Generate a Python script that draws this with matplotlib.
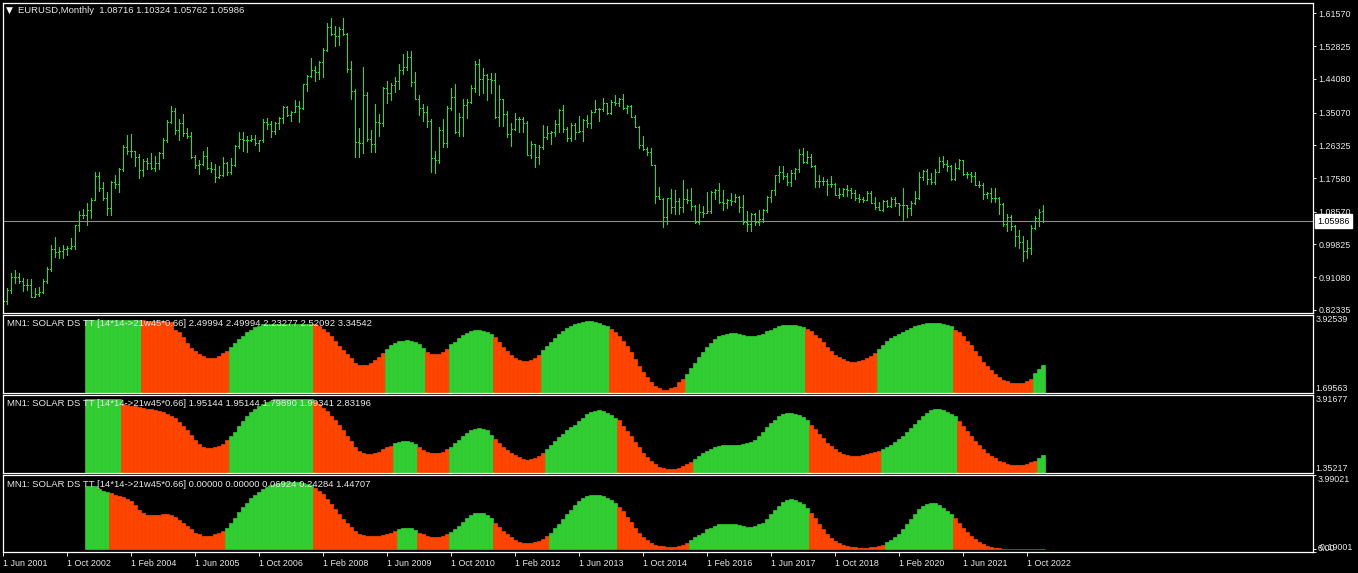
import numpy as np
import pandas as pd
import matplotlib
matplotlib.use('Agg')
import matplotlib.pyplot as plt
import matplotlib.transforms as mtransforms
from matplotlib.collections import LineCollection

plt.rcParams['font.family'] = ['Liberation Sans', 'DejaVu Sans']

# EURUSD monthly bars, Jun 2001 .. Feb 2023
first_month = '2001-06-01'
opens = [
    0.8500, 0.8480, 0.8760, 0.9110, 0.9110, 0.9020, 0.8910,
    0.8900, 0.8590, 0.8660, 0.8720, 0.9020, 0.9330, 0.9870, 0.9780, 0.9810, 0.9860, 0.9890, 0.9930,
    1.0490, 1.0770, 1.0780, 1.0910, 1.1170, 1.1810, 1.1490, 1.1230, 1.0970, 1.1650, 1.1590, 1.1990,
    1.2590, 1.2470, 1.2480, 1.2320, 1.1980, 1.2220, 1.2170, 1.2020, 1.2170, 1.2420, 1.2770, 1.3260,
    1.3550, 1.3040, 1.3240, 1.2960, 1.2870, 1.2310, 1.2100, 1.2130, 1.2340, 1.2030, 1.1990, 1.1790,
    1.1840, 1.2160, 1.1920, 1.2110, 1.2620, 1.2810, 1.2780, 1.2760, 1.2810, 1.2680, 1.2760, 1.3250,
    1.3200, 1.3020, 1.3230, 1.3360, 1.3660, 1.3450, 1.3530, 1.3680, 1.3630, 1.4260, 1.4480, 1.4630,
    1.4590, 1.4850, 1.5180, 1.5780, 1.5600, 1.5550, 1.5750, 1.5600, 1.4670, 1.4080, 1.2730, 1.2700,
    1.3970, 1.2800, 1.2670, 1.3250, 1.3240, 1.4150, 1.4030, 1.4250, 1.4340, 1.4630, 1.4720, 1.5000,
    1.4330, 1.3870, 1.3630, 1.3510, 1.3290, 1.2290, 1.2230, 1.3050, 1.2680, 1.3630, 1.3920, 1.2990,
    1.3380, 1.3700, 1.3800, 1.4170, 1.4810, 1.4390, 1.4500, 1.4390, 1.4370, 1.3400, 1.3860, 1.3460,
    1.2940, 1.3080, 1.3340, 1.3340, 1.3240, 1.2360, 1.2660, 1.2310, 1.2580, 1.2860, 1.2970, 1.2990,
    1.3190, 1.3580, 1.3060, 1.2820, 1.3170, 1.3000, 1.3010, 1.3300, 1.3220, 1.3530, 1.3590, 1.3590,
    1.3760, 1.3490, 1.3800, 1.3770, 1.3870, 1.3630, 1.3690, 1.3390, 1.3130, 1.2630, 1.2520, 1.2450,
    1.2100, 1.1290, 1.1200, 1.0730, 1.1220, 1.0990, 1.1140, 1.0980, 1.1210, 1.1170, 1.1000, 1.0570,
    1.0860, 1.0830, 1.0870, 1.1380, 1.1450, 1.1130, 1.1100, 1.1170, 1.1150, 1.1240, 1.0980, 1.0590,
    1.0520, 1.0800, 1.0580, 1.0650, 1.0900, 1.1240, 1.1430, 1.1840, 1.1910, 1.1810, 1.1650, 1.1900,
    1.2000, 1.2410, 1.2190, 1.2320, 1.2080, 1.1690, 1.1680, 1.1690, 1.1600, 1.1600, 1.1310, 1.1320,
    1.1470, 1.1450, 1.1370, 1.1220, 1.1210, 1.1170, 1.1370, 1.1080, 1.0990, 1.0900, 1.1150, 1.1020,
    1.1210, 1.1090, 1.1030, 1.1030, 1.0950, 1.1100, 1.1230, 1.1780, 1.1940, 1.1720, 1.1650, 1.1930,
    1.2220, 1.2140, 1.2070, 1.1730, 1.2020, 1.2230, 1.1860, 1.1870, 1.1810, 1.1580, 1.1560, 1.1340,
    1.1370, 1.1230, 1.1220, 1.1070, 1.0540, 1.0730, 1.0480, 1.0220, 1.0050, 0.9800, 0.9880, 1.0410,
    1.0700, 1.08716,
]
highs = [
    0.8650, 0.8830, 0.9230, 0.9310, 0.9230, 0.9100, 0.9070,
    0.9050, 0.8820, 0.8840, 0.9050, 0.9390, 0.9960, 1.0190, 0.9920, 0.9980, 0.9940, 1.0150, 1.0500,
    1.0880, 1.0930, 1.1080, 1.1230, 1.1930, 1.1930, 1.1650, 1.1380, 1.1680, 1.1840, 1.2030, 1.2650,
    1.2900, 1.2930, 1.2480, 1.2390, 1.2270, 1.2290, 1.2420, 1.2350, 1.2440, 1.2820, 1.3310, 1.3670,
    1.3630, 1.3330, 1.3480, 1.3100, 1.2990, 1.2380, 1.2250, 1.2480, 1.2590, 1.2190, 1.2130, 1.2080,
    1.2320, 1.2180, 1.2300, 1.2630, 1.2980, 1.2980, 1.2880, 1.2910, 1.2900, 1.2780, 1.3330, 1.3370,
    1.3270, 1.3250, 1.3380, 1.3680, 1.3680, 1.3550, 1.3850, 1.3810, 1.4280, 1.4510, 1.4970, 1.4760,
    1.4870, 1.5240, 1.5910, 1.6020, 1.5820, 1.5800, 1.6040, 1.5640, 1.4870, 1.4130, 1.3090, 1.4720,
    1.4060, 1.3040, 1.3740, 1.3480, 1.4180, 1.4340, 1.4300, 1.4450, 1.4790, 1.5060, 1.5140, 1.5140,
    1.4580, 1.3970, 1.3740, 1.3690, 1.3330, 1.2470, 1.3120, 1.3330, 1.3680, 1.4160, 1.4280, 1.3500,
    1.3860, 1.3860, 1.4250, 1.4880, 1.4940, 1.4700, 1.4540, 1.4550, 1.4550, 1.4250, 1.3870, 1.3550,
    1.3240, 1.3490, 1.3390, 1.3380, 1.3280, 1.2750, 1.2670, 1.2640, 1.3170, 1.3140, 1.3010, 1.3310,
    1.3590, 1.3710, 1.3110, 1.3240, 1.3240, 1.3420, 1.3340, 1.3450, 1.3570, 1.3830, 1.3620, 1.3890,
    1.3770, 1.3830, 1.3970, 1.3900, 1.3990, 1.3700, 1.3700, 1.3440, 1.3140, 1.2890, 1.2580, 1.2570,
    1.2110, 1.1530, 1.1220, 1.1220, 1.1470, 1.1440, 1.1220, 1.1710, 1.1460, 1.1500, 1.1040, 1.1060,
    1.1010, 1.1380, 1.1400, 1.1460, 1.1620, 1.1430, 1.1200, 1.1370, 1.1330, 1.1280, 1.1300, 1.0880,
    1.0830, 1.0830, 1.0910, 1.0940, 1.1270, 1.1450, 1.1850, 1.2070, 1.2090, 1.1880, 1.1960, 1.2020,
    1.2540, 1.2560, 1.2480, 1.2410, 1.2100, 1.1850, 1.1790, 1.1730, 1.1820, 1.1620, 1.1500, 1.1490,
    1.1570, 1.1490, 1.1450, 1.1330, 1.1260, 1.1410, 1.1420, 1.1250, 1.1110, 1.1180, 1.1180, 1.1240,
    1.1240, 1.1100, 1.1500, 1.1040, 1.1150, 1.1420, 1.1910, 1.1970, 1.2010, 1.1880, 1.2000, 1.2310,
    1.2350, 1.2240, 1.2110, 1.2150, 1.2270, 1.2250, 1.1910, 1.1910, 1.1910, 1.1690, 1.1620, 1.1390,
    1.1480, 1.1500, 1.1240, 1.1080, 1.0790, 1.0770, 1.0490, 1.0370, 1.0200, 1.0090, 1.0500, 1.0740,
    1.0930, 1.10324,
]
lows = [
    0.8344, 0.8390, 0.8700, 0.8950, 0.8950, 0.8740, 0.8760,
    0.8590, 0.8570, 0.8600, 0.8680, 0.8950, 0.9280, 0.9650, 0.9610, 0.9630, 0.9690, 0.9860, 0.9870,
    1.0340, 1.0690, 1.0500, 1.0690, 1.1170, 1.1410, 1.1180, 1.0770, 1.0760, 1.1490, 1.1380, 1.1950,
    1.2390, 1.2330, 1.2080, 1.1760, 1.1800, 1.1990, 1.2000, 1.1950, 1.2000, 1.2290, 1.2710, 1.3220,
    1.2940, 1.2770, 1.2880, 1.2820, 1.2300, 1.2030, 1.1870, 1.2110, 1.1990, 1.1910, 1.1640, 1.1760,
    1.1800, 1.1830, 1.1870, 1.2070, 1.2550, 1.2480, 1.2450, 1.2740, 1.2630, 1.2480, 1.2710, 1.3080,
    1.2860, 1.2930, 1.3080, 1.3230, 1.3410, 1.3290, 1.3530, 1.3260, 1.3600, 1.4080, 1.4450, 1.4350,
    1.4400, 1.4460, 1.5160, 1.5580, 1.5280, 1.5300, 1.5580, 1.4580, 1.3880, 1.2330, 1.2330, 1.2430,
    1.2750, 1.2460, 1.2460, 1.2880, 1.3140, 1.3750, 1.3830, 1.4050, 1.4130, 1.4540, 1.4640, 1.4220,
    1.3860, 1.3440, 1.3270, 1.3110, 1.1920, 1.1880, 1.2150, 1.2590, 1.2590, 1.3570, 1.2970, 1.2880,
    1.2870, 1.3360, 1.3750, 1.4060, 1.3970, 1.4020, 1.3840, 1.4030, 1.3360, 1.3140, 1.3140, 1.2860,
    1.2620, 1.3030, 1.3000, 1.3000, 1.2360, 1.2290, 1.2040, 1.2130, 1.2540, 1.2800, 1.2660, 1.2870,
    1.3000, 1.3000, 1.2750, 1.2740, 1.2790, 1.2990, 1.2750, 1.3130, 1.3100, 1.3520, 1.3290, 1.3540,
    1.3480, 1.3480, 1.3700, 1.3670, 1.3590, 1.3500, 1.3390, 1.3120, 1.2570, 1.2500, 1.2360, 1.2100,
    1.1100, 1.1190, 1.0460, 1.0520, 1.0820, 1.0810, 1.0810, 1.0850, 1.1100, 1.0900, 1.0560, 1.0520,
    1.0710, 1.0820, 1.0820, 1.1210, 1.1100, 1.0910, 1.0950, 1.1050, 1.1120, 1.0850, 1.0520, 1.0350,
    1.0340, 1.0490, 1.0490, 1.0570, 1.0840, 1.1120, 1.1310, 1.1660, 1.1720, 1.1570, 1.1550, 1.1720,
    1.1920, 1.2150, 1.2150, 1.2050, 1.1510, 1.1510, 1.1570, 1.1300, 1.1530, 1.1300, 1.1220, 1.1270,
    1.1290, 1.1230, 1.1180, 1.1110, 1.1110, 1.1180, 1.1080, 1.0930, 1.0900, 1.0880, 1.0980, 1.0980,
    1.1020, 1.0780, 1.0640, 1.0730, 1.0770, 1.1070, 1.1190, 1.1700, 1.1610, 1.1610, 1.1600, 1.1920,
    1.2060, 1.1950, 1.1700, 1.1700, 1.1990, 1.1850, 1.1750, 1.1660, 1.1560, 1.1520, 1.1190, 1.1220,
    1.1120, 1.1110, 1.0810, 1.0470, 1.0350, 1.0360, 0.9950, 0.9900, 0.9540, 0.9630, 0.9730, 1.0390,
    1.0480, 1.05762,
]
closes = [
    0.8480, 0.8760, 0.9110, 0.9110, 0.9020, 0.8910, 0.8900,
    0.8590, 0.8660, 0.8720, 0.9020, 0.9330, 0.9870, 0.9780, 0.9810, 0.9860, 0.9890, 0.9930, 1.0490,
    1.0770, 1.0780, 1.0910, 1.1170, 1.1810, 1.1490, 1.1230, 1.0970, 1.1650, 1.1590, 1.1990, 1.2590,
    1.2470, 1.2480, 1.2320, 1.1980, 1.2220, 1.2170, 1.2020, 1.2170, 1.2420, 1.2770, 1.3260, 1.3550,
    1.3040, 1.3240, 1.2960, 1.2870, 1.2310, 1.2100, 1.2130, 1.2340, 1.2030, 1.1990, 1.1790, 1.1840,
    1.2160, 1.1920, 1.2110, 1.2620, 1.2810, 1.2780, 1.2760, 1.2810, 1.2680, 1.2760, 1.3250, 1.3200,
    1.3020, 1.3230, 1.3360, 1.3660, 1.3450, 1.3530, 1.3680, 1.3630, 1.4260, 1.4480, 1.4630, 1.4590,
    1.4850, 1.5180, 1.5780, 1.5600, 1.5550, 1.5750, 1.5600, 1.4670, 1.4080, 1.2730, 1.2700, 1.3970,
    1.2800, 1.2670, 1.3250, 1.3240, 1.4150, 1.4030, 1.4250, 1.4340, 1.4630, 1.4720, 1.5000, 1.4330,
    1.3870, 1.3630, 1.3510, 1.3290, 1.2290, 1.2230, 1.3050, 1.2680, 1.3630, 1.3920, 1.2990, 1.3380,
    1.3700, 1.3800, 1.4170, 1.4810, 1.4390, 1.4500, 1.4390, 1.4370, 1.3400, 1.3860, 1.3460, 1.2940,
    1.3080, 1.3340, 1.3340, 1.3240, 1.2360, 1.2660, 1.2310, 1.2580, 1.2860, 1.2970, 1.2990, 1.3190,
    1.3580, 1.3060, 1.2820, 1.3170, 1.3000, 1.3010, 1.3300, 1.3220, 1.3530, 1.3590, 1.3590, 1.3760,
    1.3490, 1.3800, 1.3770, 1.3870, 1.3630, 1.3690, 1.3390, 1.3130, 1.2630, 1.2520, 1.2450, 1.2100,
    1.1290, 1.1200, 1.0730, 1.1220, 1.0990, 1.1140, 1.0980, 1.1210, 1.1170, 1.1000, 1.0570, 1.0860,
    1.0830, 1.0870, 1.1380, 1.1450, 1.1130, 1.1100, 1.1170, 1.1150, 1.1240, 1.0980, 1.0590, 1.0520,
    1.0800, 1.0580, 1.0650, 1.0900, 1.1240, 1.1430, 1.1840, 1.1910, 1.1810, 1.1650, 1.1900, 1.2000,
    1.2410, 1.2190, 1.2320, 1.2080, 1.1690, 1.1680, 1.1690, 1.1600, 1.1600, 1.1310, 1.1320, 1.1470,
    1.1450, 1.1370, 1.1220, 1.1210, 1.1170, 1.1370, 1.1080, 1.0990, 1.0900, 1.1150, 1.1020, 1.1210,
    1.1090, 1.1030, 1.1030, 1.0950, 1.1100, 1.1230, 1.1780, 1.1940, 1.1720, 1.1650, 1.1930, 1.2220,
    1.2140, 1.2070, 1.1730, 1.2020, 1.2230, 1.1860, 1.1870, 1.1810, 1.1580, 1.1560, 1.1340, 1.1370,
    1.1230, 1.1220, 1.1070, 1.0540, 1.0730, 1.0480, 1.0220, 1.0050, 0.9800, 0.9880, 1.0410, 1.0700,
    1.0860, 1.05986,
]
assert len(opens) == len(highs) == len(lows) == len(closes) == 261

last_price = 1.05986
price_ticks = [1.61570, 1.52825, 1.44080, 1.35070, 1.26325, 1.17580,
               1.08570, 0.99825, 0.91080, 0.82335]
price_range = (0.8153, 1.6445)

# SOLAR DS TT histograms, they start with the Mar 2003 bar
ind_start = 21
sol1 = [
    3.79, 3.79, 3.79, 3.79, 3.79, 3.79, 3.79, 3.79, 3.79, 3.79, 3.79, 3.79, 3.79, 3.79,
    3.77, 3.76, 3.76, 3.75, 3.75, 3.74, 3.73, 3.72,
    3.49, 3.43, 3.30, 3.11, 2.98, 2.88, 2.81, 2.74, 2.70, 2.70, 2.70, 2.74, 2.84, 2.88,
    3.00, 3.13, 3.23, 3.33, 3.43, 3.50, 3.57, 3.62,
    3.68, 3.68, 3.68, 3.68, 3.68, 3.68, 3.68, 3.68, 3.68, 3.68, 3.68, 3.68, 3.68,
    3.66, 3.60, 3.52, 3.43, 3.31, 3.18, 3.05, 2.92, 2.80, 2.68, 2.56, 2.50, 2.48, 2.50, 2.55, 2.63, 2.73, 2.84,
    2.94, 3.07, 3.13, 3.17, 3.19, 3.20, 3.19, 3.16, 3.10, 2.99,
    2.87, 2.82, 2.80, 2.82, 2.85, 2.94,
    3.09, 3.16, 3.26, 3.35, 3.42, 3.465, 3.49, 3.50, 3.48, 3.44, 3.39,
    3.28, 3.14, 3.02, 2.90, 2.775, 2.68, 2.63, 2.60, 2.60, 2.63, 2.68, 2.775,
    2.92, 3.04, 3.14, 3.26, 3.38, 3.47, 3.55, 3.62, 3.67, 3.70, 3.73, 3.74, 3.74, 3.73, 3.70, 3.64, 3.60,
    3.53, 3.44, 3.33, 3.18, 3.04, 2.85, 2.66, 2.45, 2.29, 2.14, 2.00, 1.90, 1.82, 1.78, 1.78, 1.82, 1.87, 1.99, 2.10,
    2.24, 2.41, 2.56, 2.71, 2.85, 3.00, 3.13, 3.23, 3.31, 3.35, 3.38, 3.41, 3.41, 3.39, 3.36,
    3.33, 3.31, 3.31, 3.34, 3.39, 3.455, 3.50, 3.55, 3.60, 3.63, 3.65, 3.65, 3.63, 3.60, 3.58,
    3.53, 3.455, 3.36, 3.26, 3.14, 3.02, 2.90, 2.79, 2.71, 2.65, 2.60, 2.58, 2.58, 2.60, 2.63, 2.68, 2.75, 2.84,
    2.95, 3.07, 3.18, 3.26, 3.33, 3.39, 3.45, 3.50, 3.55, 3.60, 3.64, 3.67, 3.69, 3.70, 3.70, 3.69, 3.67, 3.64, 3.60,
    3.50, 3.44, 3.31, 3.19, 3.07, 2.90, 2.75, 2.58, 2.45, 2.34, 2.22, 2.14, 2.065, 2.02, 1.98, 1.97, 1.97, 1.98, 2.03, 2.10,
    2.26, 2.37, 2.49994,
]
sol2 = [
    3.78, 3.78, 3.78, 3.78, 3.78, 3.78, 3.78, 3.78, 3.78,
    3.62, 3.60, 3.57, 3.545, 3.52, 3.49, 3.47, 3.445, 3.42, 3.40, 3.36, 3.30, 3.23, 3.155,
    3.04, 2.90, 2.77, 2.60, 2.43, 2.30, 2.22, 2.18, 2.18, 2.20, 2.23, 2.31, 2.43,
    2.56, 2.71, 2.89, 3.06, 3.21, 3.36, 3.47, 3.56, 3.63, 3.69, 3.73, 3.77,
    3.78, 3.78, 3.78, 3.78, 3.78, 3.78, 3.78, 3.78, 3.78,
    3.72, 3.61, 3.50, 3.39, 3.24, 3.11, 2.94, 2.78, 2.58, 2.39, 2.22, 2.09, 2.00, 1.97, 1.97, 2.00, 2.05, 2.13, 2.20, 2.24,
    2.33, 2.38, 2.41, 2.41, 2.38, 2.31,
    2.20, 2.11, 2.04, 2.00, 2.00, 2.02, 2.05, 2.13,
    2.22, 2.33, 2.44, 2.56, 2.67, 2.755, 2.81, 2.82, 2.80, 2.755, 2.61,
    2.48, 2.33, 2.22, 2.11, 2.02, 1.94, 1.865, 1.81, 1.78, 1.80, 1.84, 1.91, 2.00,
    2.13, 2.28, 2.41, 2.53, 2.64, 2.755, 2.87, 2.94, 3.06, 3.17, 3.28, 3.36, 3.40, 3.41, 3.39, 3.33, 3.27, 3.17,
    3.08, 2.91, 2.72, 2.555, 2.365, 2.20, 2.02, 1.89, 1.74, 1.64, 1.55, 1.52, 1.49, 1.475, 1.475, 1.52, 1.575, 1.64, 1.72,
    1.81, 1.92, 2.00, 2.08, 2.15, 2.20, 2.24, 2.265, 2.28, 2.28, 2.28, 2.28, 2.30, 2.33, 2.365,
    2.44, 2.58, 2.69, 2.85, 2.98, 3.11, 3.22, 3.28, 3.31, 3.31, 3.30, 3.245, 3.20, 3.09,
    2.94, 2.80, 2.64, 2.50, 2.354, 2.243, 2.132, 2.043, 1.976, 1.931, 1.909, 1.909, 1.909, 1.931, 1.965, 1.998, 2.032, 2.076,
    2.143, 2.221, 2.287, 2.377, 2.466, 2.577, 2.71, 2.833, 2.966, 3.089, 3.222, 3.334, 3.412, 3.445, 3.445, 3.423, 3.367, 3.30, 3.222,
    3.078, 2.911, 2.744, 2.577, 2.41, 2.276, 2.132, 2.02, 1.92, 1.831, 1.753, 1.698, 1.664, 1.631, 1.609, 1.609, 1.631, 1.664, 1.698, 1.742,
    1.853, 1.95144,
]
sol3 = [
    3.43, 3.43, 3.39, 3.25, 3.16, 3.07,
    3.03, 2.94, 2.85, 2.80, 2.71, 2.58, 2.40, 2.13, 1.95, 1.86, 1.82, 1.82, 1.84, 1.90, 1.90,
    1.86, 1.73, 1.59, 1.41, 1.23, 1.05, 0.87, 0.78, 0.72, 0.72, 0.72, 0.78, 0.87, 0.95,
    1.14, 1.408, 1.697, 1.986, 2.274, 2.509, 2.744, 2.924, 3.087, 3.231, 3.357, 3.466, 3.538, 3.592, 3.628,
    3.646, 3.646, 3.646, 3.628, 3.592, 3.538, 3.466,
    3.321, 3.141, 2.96, 2.726, 2.455, 2.184, 1.877, 1.606, 1.39, 1.191, 0.975, 0.83, 0.74, 0.686, 0.686,
    0.686, 0.722, 0.758, 0.83, 0.884, 0.975,
    1.065, 1.155, 1.155, 1.119, 1.047,
    0.884, 0.794, 0.704, 0.65, 0.65, 0.65, 0.704, 0.794,
    0.939, 1.065, 1.245, 1.462, 1.661, 1.841, 1.931, 1.967, 1.931, 1.841, 1.697,
    1.426, 1.191, 0.975, 0.794, 0.614, 0.469, 0.379, 0.325, 0.325, 0.325, 0.343, 0.433, 0.523, 0.668,
    0.884, 1.119, 1.372, 1.606, 1.877, 2.112, 2.383, 2.599, 2.744, 2.852, 2.924, 2.924, 2.924, 2.87, 2.78, 2.653, 2.491,
    2.274, 2.058, 1.751, 1.462, 1.155, 0.884, 0.65, 0.469, 0.307, 0.217, 0.162, 0.126, 0.108, 0.108, 0.108, 0.144, 0.217, 0.307,
    0.469, 0.614, 0.758, 0.884, 1.065, 1.155, 1.245, 1.336, 1.372, 1.372, 1.372, 1.336, 1.30, 1.245, 1.191,
    1.191, 1.245, 1.336, 1.426, 1.606, 1.90, 2.12, 2.34, 2.527, 2.635, 2.689, 2.653, 2.563, 2.419, 2.238,
    1.967, 1.697, 1.372, 1.065, 0.794, 0.578, 0.397, 0.289, 0.199, 0.144, 0.108, 0.072, 0.036, 0.018, 0.036, 0.072, 0.108, 0.144, 0.217,
    0.343, 0.469, 0.65, 0.83, 1.065, 1.336, 1.606, 1.913, 2.148, 2.328, 2.455, 2.509, 2.491, 2.383, 2.238, 2.058, 1.877,
    1.661, 1.426, 1.155, 0.921, 0.704, 0.523, 0.379, 0.253, 0.162, 0.108, 0.054, 0.036,
    0.0, 0.0, 0.0, 0.0, 0.0, 0.0, 0.0, 0.0, 0.0, 0.0, 0.0,
]
# colour runs, alternating green (rising) / orange-red (falling), first run green
runs1 = [14, 22, 21, 18, 10, 6, 11, 12, 17, 19, 30, 18, 19, 20, 3]
runs2 = [9, 27, 21, 20, 6, 8, 11, 13, 18, 19, 29, 18, 19, 20, 2]
runs3 = [6, 29, 22, 21, 5, 8, 11, 14, 17, 18, 30, 19, 17, 23]

panel_titles = [
    'MN1: SOLAR DS TT [14*14->21w45*0.66] 2.49994 2.49994 2.23277 2.52092 3.34542',
    'MN1: SOLAR DS TT [14*14->21w45*0.66] 1.95144 1.95144 1.79890 1.99341 2.83196',
    'MN1: SOLAR DS TT [14*14->21w45*0.66] 0.00000 0.00000 0.06924 0.24284 1.44707',
]
panel_ranges = [(1.69563, 3.92539), (1.35217, 3.91677), (-0.19001, 3.99021)]

BAR_C = '#1ee61e'
UP_C = '#32cd32'
DN_C = '#ff4500'
FG = '#e8e8e8'
FS = 6.4
FS_T = 6.8

W, H = 1358, 573


def rect(x0, y0, x1, y1):
    return [x0 / W, 1 - y1 / H, (x1 - x0) / W, (y1 - y0) / H]


fig = plt.figure(figsize=(W / 100, H / 100), dpi=100, facecolor='black')

ax0 = fig.add_axes(rect(2.5, 2.5, 1312.5, 313.0))
ax1 = fig.add_axes(rect(2.5, 315.0, 1312.5, 392.7))
ax2 = fig.add_axes(rect(2.5, 395.0, 1312.5, 473.0))
ax3 = fig.add_axes(rect(2.5, 475.3, 1312.5, 552.3))
axes = [ax0, ax1, ax2, ax3]

xmin, xmax = -0.125, 327.375
for a in axes:
    a.set_facecolor('black')
    a.set_xlim(xmin, xmax)
    for s in a.spines.values():
        s.set_color('white')
        s.set_linewidth(0.9)
    a.tick_params(axis='x', bottom=False, labelbottom=False)
    a.tick_params(axis='y', left=False, labelleft=False, right=True, labelright=True,
                  colors=FG, labelsize=FS, length=2.5, width=0.7, pad=2)

# price bars: high-low line, open tick left, close tick right
n = len(closes)
segs = []
for i in range(n):
    segs.append([(i, lows[i]), (i, highs[i])])
    segs.append([(i - 0.25, opens[i]), (i, opens[i])])
    segs.append([(i, closes[i]), (i + 0.25, closes[i])])
lc = LineCollection(segs, colors=BAR_C, linewidths=0.62, antialiaseds=False)
ax0.add_collection(lc)
ax0.set_ylim(*price_range)
ax0.axhline(last_price, color='#8c8c8c', lw=0.8)
ax0.set_yticks(price_ticks)
ax0.set_yticklabels(['%.5f' % p for p in price_ticks])

trans = mtransforms.blended_transform_factory(ax0.transAxes, ax0.transData)
ax0.text(1.0035, last_price, '%.5f' % last_price, transform=trans, ha='left', va='center',
         fontsize=FS, color='black',
         bbox=dict(boxstyle='square,pad=0.28', facecolor='white', edgecolor='white'))

fig.text(9.3 / W, 1 - 10.3 / H, '\u25bc', fontsize=6.5, color='white', ha='center', va='center',
         family=['DejaVu Sans'])
fig.text(18 / W, 1 - 10.7 / H, 'EURUSD,Monthly  1.08716 1.10324 1.05762 1.05986',
         fontsize=FS_T, color=FG, ha='left', va='center')

# indicator panels
for a, vals, runs, (lo, hi), title in zip([ax1, ax2, ax3], [sol1, sol2, sol3],
                                          [runs1, runs2, runs3], panel_ranges, panel_titles):
    assert len(vals) == sum(runs)
    cols = []
    for k, r in enumerate(runs):
        cols += [UP_C if k % 2 == 0 else DN_C] * r
    x = ind_start + np.arange(len(vals))
    a.bar(x, vals, width=1.0, color=cols, edgecolor=cols, linewidth=0.5)
    a.set_ylim(lo, hi)
    a.text(0.0035, 1 - 8.8 / 77.5, title, transform=a.transAxes, fontsize=FS_T, color=FG,
           ha='left', va='center')

for a, (lo, hi) in zip([ax1, ax2], panel_ranges[:2]):
    a.set_yticks([lo, hi])
    a.set_yticklabels(['%.5f' % lo, '%.5f' % hi])
    a.tick_params(axis='y', length=0)
    labs = a.get_yticklabels()
    labs[0].set_va('bottom')
    labs[1].set_va('top')

lo3, hi3 = panel_ranges[2]
ax3.set_yticks([lo3, 0.0, hi3])
ax3.set_yticklabels(['%.5f' % lo3, '0.00', '%.5f' % hi3])
ax3.tick_params(axis='y', length=2)
labs = ax3.get_yticklabels()
labs[0].set_va('bottom')
labs[1].set_va('center')
labs[2].set_va('top')

# date axis
months = pd.date_range(first_month, periods=n, freq='MS')
tick_idx = list(range(0, n, 16))
ax3.set_xticks(tick_idx)
ax3.set_xticklabels(['%d %s' % (months[i].day, months[i].strftime('%b %Y')) for i in tick_idx],
                    ha='left')
ax3.tick_params(axis='x', bottom=True, labelbottom=True, colors=FG, labelsize=FS,
                length=3, width=0.7, pad=1.5)

fig.savefig('out.png', dpi=100, facecolor='black')
